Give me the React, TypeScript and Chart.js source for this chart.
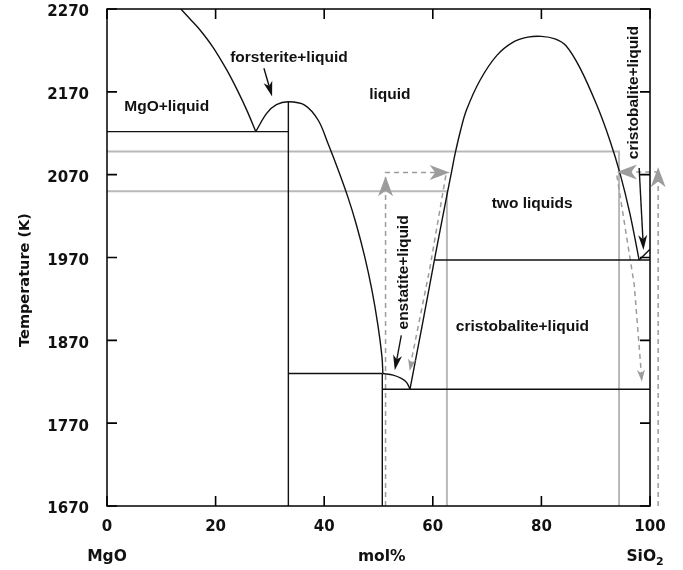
import React, { useEffect, useRef } from "react";
import { Chart, registerables } from "chart.js";

Chart.register(...registerables);

// ---- axis ticks ----
const xTicks = [0, 20, 40, 60, 80, 100];
const yTicks = [1670, 1770, 1870, 1970, 2070, 2170, 2270];

// ---- phase boundaries (mol% SiO2, K) ----
const mgoLiquidus = [[13.6, 2270], [15.3, 2258], [17.1, 2245], [19.5, 2224], [22.0, 2197], [24.0, 2172], [25.8, 2147], [27.4, 2122]];
const forsteriteLiquidus = [[27.4, 2122], [29.4, 2144], [31.2, 2154.5], [33.4, 2158], [36.4, 2154], [38.9, 2135.7], [40.7, 2107.6], [42.6, 2075.4], [44.35, 2043.2], [45.86, 2011.1], [47.47, 1970.8], [48.79, 1930.6], [49.84, 1890.4], [50.64, 1850.1], [50.8, 1830]];
const enstatiteLiquidus = [[50.8, 1830], [52.7, 1828], [54.2, 1824], [55.2, 1819], [55.8, 1811]];
const miscibilityDome = [[55.8, 1811], [58.1, 1890], [60.3, 1967], [62.0, 2025], [63.5, 2075], [64.1, 2095], [65.1, 2123], [66.2, 2148], [68.7, 2184], [71.8, 2214], [74.8, 2230], [77.5, 2236], [80.0, 2237], [82.5, 2234], [84.5, 2226], [87.1, 2199], [90.2, 2154], [92.6, 2111.6], [94.5, 2071], [96.3, 2023], [98.0, 1967]];
const cristobaliteLiquidus = [[98.0, 1967], [100, 1980]];
const mgoEutectic = [[0, 2122], [33.4, 2122]];
const forsteriteLine = [[33.4, 2158], [33.4, 1670]];
const peritecticLine = [[33.4, 1830], [50.7, 1830]];
const enstatiteLine = [[50.7, 1830], [50.7, 1670]];
const silicaEutectic = [[50.7, 1811], [100, 1811]];
const monotecticLine = [[60.3, 1967], [100, 1967]];

// ---- grey guide lines ----
const greyUpper = [[0, 2098], [94.3, 2098], [94.3, 1670]];
const greyLower = [[0, 2050], [62.6, 2050], [62.6, 1670]];

// ---- dashed grey paths ----
const dashLeft = [[51.3, 1670], [51.3, 2072.6], [62.9, 2072.6]];
const dashLeftDown = [[62.4, 2069], [59.4, 1955], [55.75, 1836]];
const dashRight = [[101.5, 1670], [101.5, 2073.3], [94.1, 2073.3]];
const dashRightDown = [[93.9, 2069], [97.1, 1937], [98.5, 1822]];

// ---- arrowheads on dashed paths: tip, point behind, big head? ----
const greyHeads = [
  { tip: [51.3, 2068], from: [51.3, 2030], big: true },
  { tip: [63.1, 2072.6], from: [60, 2072.6], big: true },
  { tip: [55.75, 1833], from: [59.4, 1955], big: false },
  { tip: [101.5, 2079], from: [101.5, 2040], big: true },
  { tip: [93.9, 2073.3], from: [97, 2073.3], big: true },
  { tip: [98.5, 1820], from: [97.1, 1937], big: false },
];

// ---- black pointer arrows ----
const pointerArrows = [
  { from: [28.9, 2198.5], to: [30.4, 2164.5] },
  { from: [54.2, 1876], to: [53.0, 1834] },
  { from: [98.0, 2078], to: [98.8, 1979] },
];

// ---- region labels ----
const regionLabels = [
  { text: "forsterite+liquid", x: 33.5, y: 2211, vertical: false },
  { text: "MgO+liquid", x: 11.0, y: 2152, vertical: false },
  { text: "liquid", x: 52.1, y: 2166, vertical: false },
  { text: "two liquids", x: 78.3, y: 2035, vertical: false },
  { text: "cristobalite+liquid", x: 76.5, y: 1887, vertical: false },
  { text: "enstatite+liquid", x: 54.6, y: 1952, vertical: true },
  { text: "cristobalite+liquid", x: 97.05, y: 2169, vertical: true },
];

// ---- composition end labels ----
const endLabels = [
  { text: "MgO", x: 0 },
  { text: "mol%", x: 50.6 },
  { text: "SiO", sub: "2", x: 99.1 },
];
const yTitle = "Temperature (K)";

const BLACK = "#111111";
const GREY = "#b9b9b9";
const DASH = "#9c9c9c";

const toPts = (a: number[][]) => a.map(([x, y]) => ({ x, y }));

function blackLine(a: number[][], curve = false) {
  return {
    data: toPts(a),
    showLine: true,
    pointRadius: 0,
    borderColor: BLACK,
    borderWidth: 1.4,
    tension: curve ? 0.35 : 0,
    order: 0,
  };
}
function greyLine(a: number[][]) {
  return { data: toPts(a), showLine: true, pointRadius: 0, borderColor: GREY, borderWidth: 2, order: 2 };
}
function dashLine(a: number[][]) {
  return {
    data: toPts(a),
    showLine: true,
    pointRadius: 0,
    borderColor: DASH,
    borderWidth: 1.5,
    borderDash: [5, 4],
    order: 1,
    clip: false,
  };
}

function head(ctx: CanvasRenderingContext2D, fx: number, fy: number, tx: number, ty: number, len: number, wid: number, color: string) {
  const dx = tx - fx, dy = ty - fy;
  const d = Math.hypot(dx, dy) || 1;
  const ux = dx / d, uy = dy / d;
  const px = -uy, py = ux;
  ctx.fillStyle = color;
  ctx.beginPath();
  ctx.moveTo(tx, ty);
  ctx.lineTo(tx - ux * len + px * wid / 2, ty - uy * len + py * wid / 2);
  ctx.lineTo(tx - ux * len * 0.72, ty - uy * len * 0.72);
  ctx.lineTo(tx - ux * len - px * wid / 2, ty - uy * len - py * wid / 2);
  ctx.closePath();
  ctx.fill();
}

const decorPlugin = {
  id: "decor",
  afterDraw(chart: any) {
    const ctx: CanvasRenderingContext2D = chart.ctx;
    const xs = chart.scales.x, ys = chart.scales.y;
    const ca = chart.chartArea;
    const left = ca.left, right = ca.right, top = ca.top, bottom = ca.bottom;
    const X = (v: number) => xs.getPixelForValue(v);
    const Y = (v: number) => ys.getPixelForValue(v);
    ctx.save();
    ctx.setLineDash([]);
    ctx.globalAlpha = 1;
    // frame
    ctx.strokeStyle = "#000";
    ctx.lineWidth = 1.5;
    ctx.strokeRect(left, top, right - left, bottom - top);
    // inward tick marks on all four sides
    ctx.beginPath();
    xTicks.forEach((v) => {
      const px = X(v);
      ctx.moveTo(px, bottom);
      ctx.lineTo(px, bottom - 10);
      ctx.moveTo(px, top);
      ctx.lineTo(px, top + 10);
    });
    yTicks.forEach((v) => {
      const py = Y(v);
      ctx.moveTo(left, py);
      ctx.lineTo(left + 10, py);
      ctx.moveTo(right, py);
      ctx.lineTo(right - 10, py);
    });
    ctx.lineWidth = 1.6;
    ctx.strokeStyle = "#000";
    ctx.stroke();

    // grey arrowheads
    for (const h of greyHeads) {
      head(ctx, X(h.from[0]), Y(h.from[1]), X(h.tip[0]), Y(h.tip[1]), h.big ? 20 : 12, h.big ? 15 : 8, DASH);
    }
    // black pointer arrows
    ctx.strokeStyle = BLACK;
    ctx.lineWidth = 1.4;
    for (const a of pointerArrows) {
      const fx = X(a.from[0]), fy = Y(a.from[1]), tx = X(a.to[0]), ty = Y(a.to[1]);
      const d = Math.hypot(tx - fx, ty - fy);
      const ex = tx - (tx - fx) / d * 10, ey = ty - (ty - fy) / d * 10;
      ctx.beginPath();
      ctx.moveTo(fx, fy); ctx.lineTo(ex, ey);
      ctx.stroke();
      head(ctx, fx, fy, tx, ty, 15, 9, BLACK);
    }

    // region labels
    ctx.fillStyle = BLACK;
    ctx.font = 'bold 15.5px "Liberation Sans", Arial, sans-serif';
    ctx.textAlign = "center";
    ctx.textBaseline = "middle";
    for (const l of regionLabels) {
      ctx.save();
      ctx.translate(X(l.x), Y(l.y));
      if (l.vertical) ctx.rotate(-Math.PI / 2);
      ctx.fillText(l.text, 0, 0);
      ctx.restore();
    }

    // end labels
    ctx.font = 'bold 15.5px "DejaVu Sans", sans-serif';
    const ly = bottom + 51;
    for (const e of endLabels) {
      const cx = X(e.x);
      if (e.sub) {
        const w1 = ctx.measureText(e.text).width;
        ctx.font = 'bold 11px "DejaVu Sans", sans-serif';
        const w2 = ctx.measureText(e.sub).width;
        const x0 = cx - (w1 + w2) / 2;
        ctx.textAlign = "left";
        ctx.fillText(e.sub, x0 + w1, ly + 5);
        ctx.font = 'bold 15.5px "DejaVu Sans", sans-serif';
        ctx.fillText(e.text, x0, ly);
        ctx.textAlign = "center";
      } else {
        ctx.fillText(e.text, cx, ly);
      }
    }
    // y title
    ctx.font = 'bold 14.5px "DejaVu Sans", sans-serif';
    ctx.save();
    ctx.translate(25, 280);
    ctx.rotate(-Math.PI / 2);
    ctx.fillText(yTitle, 0, 0);
    ctx.restore();
    ctx.restore();
  },
};

export default function App() {
  const ref = useRef<HTMLCanvasElement>(null);
  useEffect(() => {
    const tickFont = { family: '"DejaVu Sans", sans-serif', size: 15, weight: "bold" as const };
    const chart = new Chart(ref.current!, {
      type: "scatter",
      data: {
        datasets: [
          blackLine(mgoLiquidus, true),
          blackLine(forsteriteLiquidus, true),
          blackLine(enstatiteLiquidus, true),
          blackLine(miscibilityDome, true),
          blackLine(cristobaliteLiquidus),
          blackLine(mgoEutectic),
          blackLine(forsteriteLine),
          blackLine(peritecticLine),
          blackLine(enstatiteLine),
          blackLine(silicaEutectic),
          blackLine(monotecticLine),
          greyLine(greyUpper),
          greyLine(greyLower),
          dashLine(dashLeft),
          dashLine(dashLeftDown),
          dashLine(dashRight),
          dashLine(dashRightDown),
        ] as any,
      },
      options: {
        responsive: false,
        animation: false,
        events: [],
        layout: { padding: { left: 0, top: 9, right: 33, bottom: 0 } },
        plugins: { legend: { display: false }, tooltip: { enabled: false } },
        scales: {
          x: {
            type: "linear",
            min: 0,
            max: 100,
            afterBuildTicks: (s: any) => { s.ticks = xTicks.map((v) => ({ value: v })); },
            afterFit: (s: any) => { s.height = 64; s.paddingLeft = 0; s.paddingRight = 0; },
            grid: { display: false, drawTicks: false },
            border: { display: false },
            ticks: { font: tickFont, color: BLACK, padding: 12, maxRotation: 0, autoSkip: false, callback: (v: any) => String(v) },
          },
          y: {
            type: "linear",
            min: 1670,
            max: 2270,
            afterBuildTicks: (s: any) => { s.ticks = yTicks.map((v) => ({ value: v })); },
            afterFit: (s: any) => { s.width = 107; s.paddingTop = 0; s.paddingBottom = 0; },
            grid: { display: false, drawTicks: false },
            border: { display: false },
            ticks: { font: tickFont, color: BLACK, padding: 18, labelOffset: 3.5, autoSkip: false, callback: (v: any) => String(v) },
          },
        },
      },
      plugins: [decorPlugin],
    });
    return () => chart.destroy();
  }, []);
  return (
    <div style={{ position: "absolute", left: 0, top: 0, width: 683, height: 570, background: "#fff" }}>
      <canvas ref={ref} width={683} height={570} />
    </div>
  );
}
